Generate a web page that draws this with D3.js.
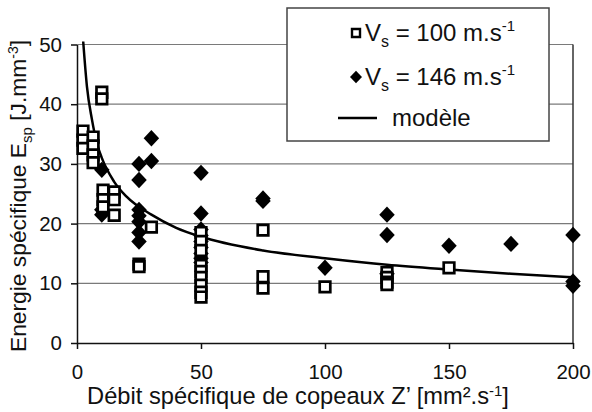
<!DOCTYPE html>
<html><head><meta charset="utf-8">
<script src="https://cdn.jsdelivr.net/npm/d3@7"></script>
<style>body{margin:0;background:#fff}svg{display:block;font-family:"Liberation Sans",Arial,sans-serif}</style>
</head><body>
<svg id="c" width="592" height="412"></svg>
<script>
// Vs = 100 m/s (open squares)
const sqZ = [2.4,2.4,2.4, 6.5,6.5,6.5,6.5, 10,10, 10.5,10.5,10.5, 15,15,15, 25,25, 30,
             50,50,50,50,50,50,50,50,50, 75,75,75, 100, 125,125,125,125, 150];
const sqE = [35.5,34,32.6, 34.5,33,31.5,30.2, 42,40.9, 25.6,24,22.8, 25.3,24,21.4, 13.2,12.8, 19.4,
             18.5,17,15.5,13,12,11,9.7,8.5,7.7, 18.9,11.1,9.2, 9.4, 11.8,11,10.2,9.8, 12.6];
// Vs = 146 m/s (filled diamonds)
const diZ = [10,10,10, 25,25,25,25,25,25,25, 30,30, 50,50,50,50,50,50,50,50,50,
             75,75, 100, 125,125,125, 150, 175, 200,200,200];
const diE = [29,22.3,21.5, 30,27.3,22.3,21.3,20.3,18.5,17, 34.3,30.5, 28.5,21.7,19,18,17,16,15,14.2,13.5,
             24.2,23.8, 12.6, 21.5,18.1,11.6, 16.3, 16.6, 18.1,10.3,9.6];
// model curve
const modZ = [2.5, 4, 6, 8, 10, 15, 20, 30, 40, 50, 75, 100, 125, 150, 175, 200];
const modE = [50.5, 43, 37.5, 33.5, 31, 27, 24.5, 21.5, 19.3, 17.8, 15.5, 14.2, 13.1, 12.3, 11.6, 11.0];
const xTicks = [0, 50, 100, 150, 200];
const yTicks = [0, 10, 20, 30, 40, 50];

const svg = d3.select("#c");
const x = d3.scaleLinear().domain([0, 200]).range([77, 573]);
const y = d3.scaleLinear().domain([0, 50]).range([343, 44.5]);

// gridlines
svg.append("g").selectAll("line").data(yTicks.filter(d => d > 0)).join("line")
  .attr("x1", x(0)).attr("x2", x(200)).attr("y1", d => y(d)).attr("y2", d => y(d))
  .attr("stroke", "#7a7a7a").attr("stroke-width", 1.2);
// right border
svg.append("line").attr("x1", x(200)).attr("x2", x(200)).attr("y1", y(50)).attr("y2", y(0))
  .attr("stroke", "#333").attr("stroke-width", 1.5);

// axes
const ax = svg.append("g").attr("transform", `translate(0,${y(0)})`)
  .call(d3.axisBottom(x).tickValues(xTicks).tickSize(6).tickPadding(15).tickSizeOuter(0));
const ay = svg.append("g").attr("transform", `translate(${x(0)},0)`)
  .call(d3.axisLeft(y).tickValues(yTicks).tickSize(6).tickPadding(9).tickSizeOuter(0));
[ax, ay].forEach(g => {
  g.select(".domain").attr("stroke", "#111").attr("stroke-width", 1.5);
  g.selectAll(".tick line").attr("stroke", "#111").attr("stroke-width", 1.5);
  g.selectAll("text").attr("font-size", 20.5).attr("fill", "#111").attr("font-family", "Liberation Sans, Arial, sans-serif");
});

// model line
svg.append("path").datum(modZ.map((z, i) => [z, modE[i]]))
  .attr("fill", "none").attr("stroke", "#000").attr("stroke-width", 2.5)
  .attr("d", d3.line().x(d => x(d[0])).y(d => y(d[1])).curve(d3.curveMonotoneX));

// diamonds
const dia = d3.symbol(d3.symbolSquare).size(120)();
svg.append("g").selectAll("path").data(diZ.map((z, i) => [z, diE[i]])).join("path")
  .attr("d", dia).attr("fill", "#000")
  .attr("transform", d => `translate(${x(d[0])},${y(d[1])}) scale(1,1.06) rotate(45)`);
// squares
const sq = d3.symbol(d3.symbolSquare).size(112)();
svg.append("g").selectAll("path").data(sqZ.map((z, i) => [z, sqE[i]])).join("path")
  .attr("d", sq).attr("fill", "#fff").attr("stroke", "#000").attr("stroke-width", 2.7)
  .attr("transform", d => `translate(${x(d[0])},${y(d[1])})`);

// axis titles
svg.append("text").attr("x", 298).attr("y", 404).attr("text-anchor", "middle").attr("font-size", 23.7).attr("fill", "#111")
  .html('Débit spécifique de copeaux Z’ [mm².s<tspan dy="-8" font-size="15">-1</tspan><tspan dy="8">]</tspan>');
svg.append("text").attr("transform", "translate(26,196) rotate(-90)").attr("text-anchor", "middle").attr("font-size", 22.8).attr("fill", "#111")
  .html('Energie spécifique E<tspan dy="6" font-size="15">sp</tspan><tspan dy="-6"> [J.mm</tspan><tspan dy="-8" font-size="14">-3</tspan><tspan dy="8">]</tspan>');

// legend
const lg = svg.append("g");
lg.append("rect").attr("x", 287).attr("y", 8).attr("width", 262).attr("height", 133)
  .attr("fill", "#fff").attr("stroke", "#444").attr("stroke-width", 1.5);
lg.append("path").attr("d", d3.symbol(d3.symbolSquare).size(64)()).attr("fill", "#fff").attr("stroke", "#000").attr("stroke-width", 2.4)
  .attr("transform", "translate(356,33)");
lg.append("path").attr("d", d3.symbol(d3.symbolSquare).size(72)()).attr("fill", "#000")
  .attr("transform", "translate(356,77) scale(1,1.06) rotate(45)");
lg.append("line").attr("x1", 338).attr("x2", 377).attr("y1", 118).attr("y2", 118).attr("stroke", "#000").attr("stroke-width", 2.5);
lg.append("text").attr("x", 365).attr("y", 41).attr("font-size", 24).attr("fill", "#111")
  .html('V<tspan dy="6" font-size="16">s</tspan><tspan dy="-6"> = 100 m.s</tspan><tspan dy="-10" font-size="15">-1</tspan>');
lg.append("text").attr("x", 365).attr("y", 85).attr("font-size", 24).attr("fill", "#111")
  .html('V<tspan dy="6" font-size="16">s</tspan><tspan dy="-6"> = 146 m.s</tspan><tspan dy="-10" font-size="15">-1</tspan>');
lg.append("text").attr("x", 392).attr("y", 126).attr("font-size", 24).attr("fill", "#111").text("modèle");
</script>
</body></html>
